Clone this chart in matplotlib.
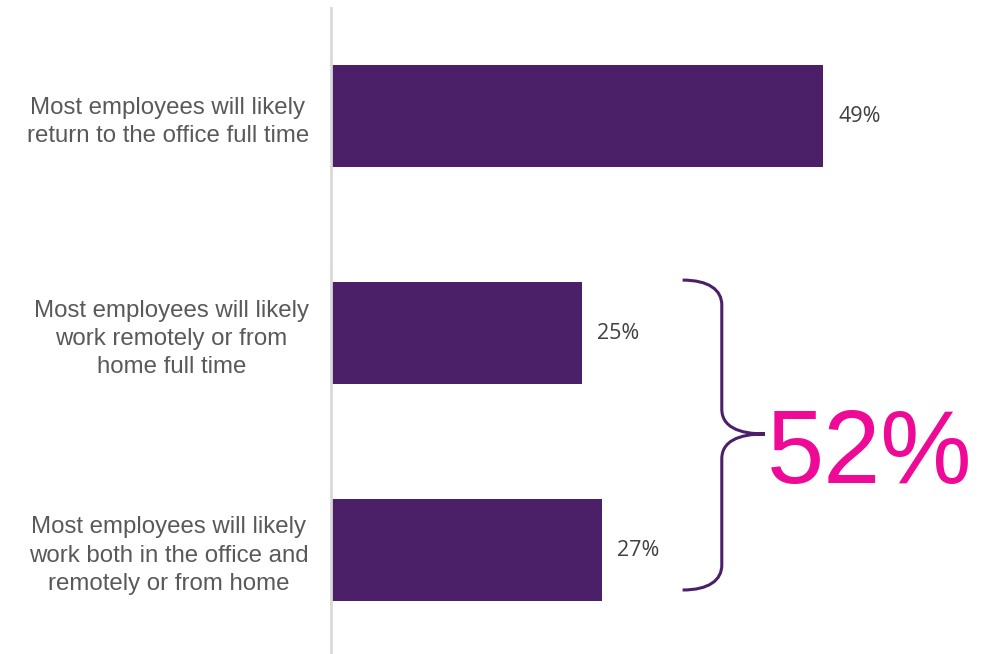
import matplotlib
matplotlib.use("Agg")
import matplotlib.pyplot as plt
from matplotlib.path import Path
from matplotlib.patches import PathPatch

categories = [
    "Most employees will likely\nreturn to the office full time",
    "Most employees will likely\nwork remotely or from\nhome full time",
    "Most employees will likely\nwork both in the office and\nremotely or from home",
]
values = [49, 25, 27]
combined_label = "52%"

BAR = "#4B2068"
PINK = "#EE0A96"
LABEL_GRAY = "#595959"
VALUE_GRAY = "#404040"

W, H = 991, 654
fig = plt.figure(figsize=(W / 100, H / 100), dpi=100)
ax = fig.add_axes([331 / W, 0, (984 - 331) / W, (654 - 8) / H])

ypos = list(range(len(categories)))
ax.barh(ypos, values, height=0.47, color=BAR, zorder=2)
ax.set_xlim(0, 65)
ax.set_ylim(2.479, -0.498)

ax.set_yticks(ypos)
ax.set_yticklabels(categories, fontsize=17.3, color=LABEL_GRAY,
                   family="Liberation Sans", multialignment="center",
                   linespacing=1.36)
ax.tick_params(axis="y", length=0, pad=16)
ax.set_xticks([])
for s in ["top", "right", "bottom"]:
    ax.spines[s].set_visible(False)
ax.spines["left"].set_color("#D9D9D9")
ax.spines["left"].set_linewidth(2)

for y, v in zip(ypos, values):
    ax.text(v + 1.5, y, f"{v}%", va="center", ha="left",
            fontsize=15.5, color=VALUE_GRAY, family="Open Sans")

# curly brace grouping the last two bars
g = values[1:]
x0 = max(g) + 8.0
xv = x0 + 3.9
xt = x0 + 8.2
top = 1 - 0.244
bot = 2 + 0.184
mid = (top + bot) / 2 - 0.005
r = 0.115
verts = [
    (x0, top),
    (x0 + 2.6, top), (xv, top + 0.045), (xv, top + r),
    (xv, mid - r),
    (xv, mid - 0.035), (xv + 1.6, mid), (xt, mid),
    (xv + 1.6, mid), (xv, mid + 0.035), (xv, mid + r),
    (xv, bot - r),
    (xv, bot - 0.045), (x0 + 2.6, bot), (x0, bot),
]
codes = [Path.MOVETO,
         Path.CURVE4, Path.CURVE4, Path.CURVE4,
         Path.LINETO,
         Path.CURVE4, Path.CURVE4, Path.CURVE4,
         Path.CURVE4, Path.CURVE4, Path.CURVE4,
         Path.LINETO,
         Path.CURVE4, Path.CURVE4, Path.CURVE4]
ax.add_patch(PathPatch(Path(verts, codes), facecolor="none", edgecolor=BAR,
                       lw=2.2, capstyle="butt", joinstyle="miter",
                       clip_on=False))

ax.text(xt + 0.2, mid + 0.226, combined_label, ha="left", va="baseline",
        fontsize=74, color=PINK, family="Liberation Sans")

fig.savefig("out.png", dpi=100, facecolor="white")
